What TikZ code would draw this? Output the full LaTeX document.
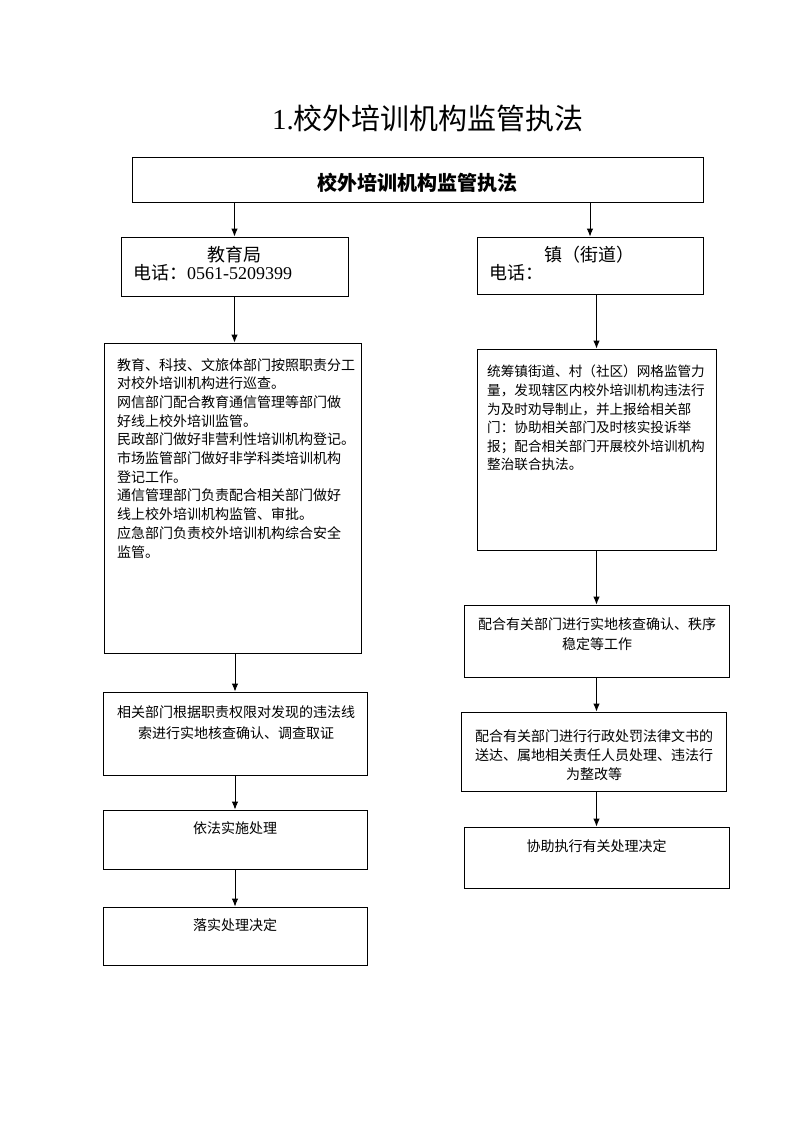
\documentclass[tikz,border=0pt]{standalone}
\usepackage{fontspec}
\setmainfont{Liberation Serif}
\newfontfamily\cjk{Noto Sans CJK SC}
\usetikzlibrary{arrows.meta}
\begin{document}
\begin{tikzpicture}[x=1pt,y=-1pt,
  box/.style={draw, line width=0.9pt, inner sep=0pt},
  arr/.style={-{Latex[length=8pt,width=6.5pt]}, line width=0.9pt},
  txt/.style={inner sep=0pt, font=\cjk\fontsize{14}{18.7}\selectfont},
  rtxt/.style={inner sep=0pt, font=\cjk\fontsize{13.6}{18.6}\selectfont},
  head/.style={inner sep=0pt, font=\fontsize{18}{21}\selectfont}]
\useasboundingbox (0,0) rectangle (793,1122);

% title
\node[inner sep=0pt, anchor=west] (title) at (272,118) {\fontsize{29}{32}\selectfont 1.{\cjk 校外培训机构监管执法}};

% boxes
\node[box, minimum width=571pt, minimum height=45pt] (top) at (417.5,179.5) {};
\node[inner sep=0pt, font=\cjk\bfseries\fontsize{20}{24}\selectfont] (toptext) at (417.5,183) {校外培训机构监管执法};

\node[box, minimum width=227pt, minimum height=59pt] (jyj) at (234.5,266.5) {};
\node[head] (jyjname) at (234.5,255) {\cjk 教育局};
\node[head, anchor=west] (jyjtel) at (133,273) {{\cjk 电话：}0561-5209399};

\node[box, minimum width=226pt, minimum height=57pt] (zhen) at (590,265.5) {};
\node[head] (zhenname) at (589,255) {\cjk 镇（街道）};
\node[head, anchor=west] (zhentel) at (489,273) {\cjk 电话：};

\node[box, minimum width=257pt, minimum height=310pt] (lbig) at (232.5,498) {};
\node[txt, anchor=north west, align=left] (lbigtext) at (117,358) {教育、科技、文旅体部门按照职责分工\\对校外培训机构进行巡查。\\网信部门配合教育通信管理等部门做\\好线上校外培训监管。\\民政部门做好非营利性培训机构登记。\\市场监管部门做好非学科类培训机构\\登记工作。\\通信管理部门负责配合相关部门做好\\线上校外培训机构监管、审批。\\应急部门负责校外培训机构综合安全\\监管。};

\node[box, minimum width=264pt, minimum height=83pt] (l2) at (235,733.5) {};
\node[txt, anchor=north, align=center, font=\cjk\fontsize{14}{21}\selectfont] (l2text) at (236,705.5) {相关部门根据职责权限对发现的违法线\\索进行实地核查确认、调查取证};

\node[box, minimum width=264pt, minimum height=59pt] (l3) at (235,839.5) {};
\node[txt] (l3text) at (235,828) {依法实施处理};

\node[box, minimum width=264pt, minimum height=58pt] (l4) at (235,936) {};
\node[txt] (l4text) at (235,925) {落实处理决定};

\node[box, minimum width=239pt, minimum height=201pt] (rbig) at (596.5,449.5) {};
\node[rtxt, anchor=north west, align=left] (rbigtext) at (487,365) {统筹镇街道、村（社区）网格监管力\\量，发现辖区内校外培训机构违法行\\为及时劝导制止，并上报给相关部\\门：协助相关部门及时核实投诉举\\报；配合相关部门开展校外培训机构\\整治联合执法。};

\node[box, minimum width=265pt, minimum height=72pt] (r2) at (596.5,641) {};
\node[txt, anchor=north, align=center, font=\cjk\fontsize{14}{20}\selectfont] (r2text) at (597,617) {配合有关部门进行实地核查确认、秩序\\稳定等工作};

\node[box, minimum width=265pt, minimum height=79pt] (r3) at (593.5,751.5) {};
\node[txt, anchor=north, align=center, font=\cjk\fontsize{14}{19}\selectfont] (r3text) at (594,729) {配合有关部门进行行政处罚法律文书的\\送达、属地相关责任人员处理、违法行\\为整改等};

\node[box, minimum width=265pt, minimum height=61pt] (r4) at (596.5,857.5) {};
\node[txt] (r4text) at (596.5,846) {协助执行有关处理决定};

% connectors
\draw[arr] (top.south -| jyj.north) -- (jyj.north);
\draw[arr] (top.south -| zhen.north) -- (zhen.north);
\draw[arr] (jyj.south) -- (jyj.south |- lbig.north);
\draw[arr] (lbig.south -| l2.north) -- (l2.north);
\draw[arr] (l2.south) -- (l3.north);
\draw[arr] (l3.south) -- (l4.north);
\draw[arr] (zhen.south -| rbig.north) -- (rbig.north);
\draw[arr] (rbig.south) -- (r2.north);
\draw[arr] (r2.south) -- (r2.south |- r3.north);
\draw[arr] (r3.south -| r4.north) -- (r4.north);
\end{tikzpicture}
\end{document}
